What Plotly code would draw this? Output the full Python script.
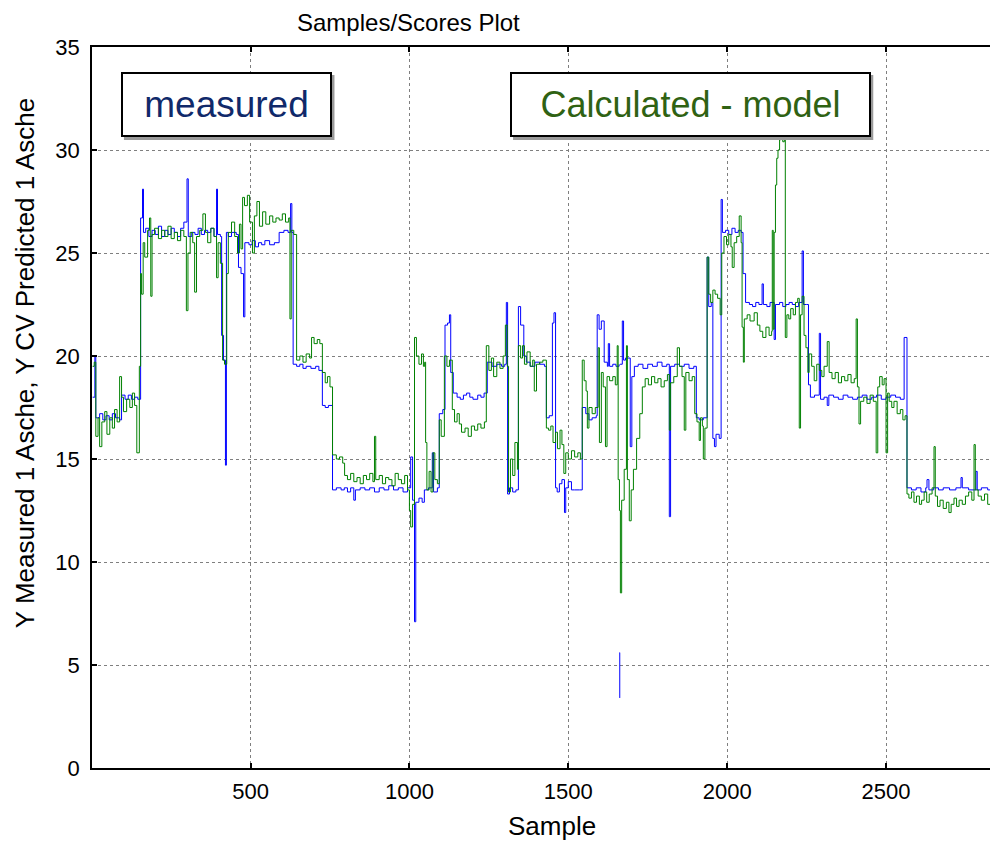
import plotly.graph_objects as go

# ---------------- data ----------------
measured_points = [
    (3, 18.0), (10, 20.0), (13, 17.0), (25, 17.2), (35, 16.9), (45, 17.1), (55, 16.9),
    (65, 17.2), (75, 17.0), (88, 16.9), (94, 18.1), (105, 17.9), (115, 18.1), (125, 17.9),
    (135, 18.0), (145, 17.9), (154, 26.7), (160, 28.1), (163, 26.0), (170, 26.2), (180, 25.8),
    (190, 26.1), (200, 25.9), (210, 26.3), (220, 25.8), (230, 26.1), (240, 25.9), (250, 26.2),
    (260, 26.0), (270, 25.8), (280, 26.2), (290, 26.5), (300, 28.6), (304, 25.8), (315, 26.0),
    (325, 25.9), (335, 26.2), (345, 25.9), (355, 26.1), (365, 26.0), (375, 26.2), (385, 25.8),
    (393, 28.1), (396, 25.9), (405, 25.8), (409, 21.0), (415, 19.8), (421, 14.7), (424, 26.0),
    (430, 25.8), (440, 26.0), (455, 25.9), (462, 24.3), (470, 24.0), (478, 21.9), (482, 25.5),
    (495, 25.4), (505, 25.6), (515, 25.3), (525, 25.5), (535, 25.4), (545, 25.6), (560, 25.4),
    (575, 25.5), (590, 26.0), (605, 26.1), (618, 26.0), (626, 27.4), (630, 26.0), (634, 19.6),
    (645, 19.5), (655, 19.6), (665, 19.4), (675, 19.5), (690, 19.4), (705, 19.5), (715, 19.3),
    (726, 17.6), (735, 17.5), (745, 17.6), (758, 13.5), (770, 13.6), (785, 13.5), (795, 13.6),
    (805, 13.4), (815, 13.6), (825, 13.0), (830, 13.5), (845, 13.6), (860, 13.5), (875, 13.6),
    (890, 13.4), (905, 13.6), (920, 13.5), (935, 13.7), (950, 13.5), (965, 13.6), (980, 13.4),
    (994, 13.6), (1004, 15.1), (1010, 13.0), (1016, 7.1), (1020, 12.9), (1030, 13.1),
    (1040, 12.9), (1047, 13.5), (1060, 13.6), (1072, 15.3), (1076, 13.4), (1088, 13.6),
    (1094, 17.2), (1105, 17.4), (1112, 21.5), (1120, 21.6), (1126, 22.0), (1130, 19.2),
    (1138, 18.2), (1150, 18.0), (1160, 17.9), (1170, 18.1), (1180, 18.2), (1190, 18.0),
    (1200, 17.9), (1215, 18.1), (1225, 18.0), (1235, 18.2), (1245, 19.7), (1260, 19.5),
    (1275, 19.6), (1290, 19.5), (1300, 19.6), (1305, 22.6), (1309, 13.3), (1315, 13.6),
    (1325, 13.4), (1335, 13.5), (1343, 22.4), (1350, 21.5), (1360, 20.0), (1368, 19.7),
    (1380, 19.5), (1395, 19.7), (1410, 19.6), (1425, 19.5), (1431, 17.0), (1440, 17.1),
    (1450, 21.6), (1455, 22.1), (1460, 13.6), (1465, 13.4), (1472, 13.8), (1480, 14.0),
    (1488, 12.4), (1492, 13.6), (1500, 13.9), (1510, 13.5), (1520, 13.5), (1535, 13.5),
    (1544, 17.5), (1555, 17.2), (1565, 16.9), (1575, 17.0), (1588, 17.1), (1591, 22.0),
    (1597, 21.3), (1604, 21.7), (1613, 19.7), (1623, 19.5), (1626, 20.6), (1630, 19.5),
    (1640, 19.6), (1650, 19.5), (1660, 19.6), (1661, None), (1661, 5.6), (1662, 3.4),
    (1662, None), (1663, 19.6), (1670, 21.7), (1674, 19.8), (1680, 19.9), (1695, 15.6),
    (1700, 19.0), (1708, 19.5), (1720, 19.6), (1735, 19.4), (1750, 19.6), (1765, 19.5),
    (1780, 19.7), (1795, 19.5), (1810, 19.6), (1818, 12.2), (1822, 19.5), (1835, 19.6),
    (1850, 19.5), (1865, 19.6), (1880, 19.4), (1895, 19.5), (1903, 17.0), (1912, 16.9),
    (1925, 17.0), (1934, 17.0), (1937, 24.8), (1942, 22.4), (1950, 22.6), (1955, 16.0),
    (1960, 15.6), (1965, 16.2), (1975, 16.0), (1981, 27.6), (1985, 26.0), (1995, 26.1),
    (2005, 25.9), (2015, 26.2), (2025, 26.0), (2035, 26.1), (2044, 26.0), (2050, 24.0),
    (2058, 22.6), (2070, 22.5), (2080, 22.4), (2090, 22.6), (2100, 22.5), (2110, 23.5),
    (2114, 22.5), (2125, 22.4), (2135, 22.6), (2148, 20.8), (2152, 22.5), (2165, 22.6),
    (2175, 22.4), (2185, 22.5), (2195, 22.6), (2205, 22.5), (2215, 22.4), (2225, 22.6),
    (2236, 25.1), (2240, 22.5), (2250, 22.5), (2256, 18.6), (2262, 18.0), (2275, 18.1),
    (2290, 21.1), (2294, 17.9), (2305, 18.0), (2315, 17.6), (2320, 18.1), (2335, 18.0),
    (2350, 17.9), (2365, 18.1), (2380, 18.0), (2395, 17.9), (2410, 18.0), (2425, 18.1),
    (2440, 17.9), (2455, 18.0), (2470, 18.1), (2485, 17.9), (2500, 18.0), (2515, 18.1),
    (2530, 18.0), (2545, 17.9), (2557, 20.9), (2566, 13.6), (2580, 13.5), (2595, 13.6),
    (2610, 13.4), (2625, 13.6), (2629, 14.0), (2635, 13.5), (2650, 13.6), (2665, 13.5),
    (2680, 13.6), (2700, 13.5), (2720, 13.6), (2736, 14.1), (2740, 13.6), (2760, 13.5),
    (2783, 14.4), (2787, 13.5), (2800, 13.6), (2820, 13.5), (2835, 13.6), (2843, 13.5),
]

model_points = [
    (3, 19.5), (8, 19.7), (13, 16.1), (20, 17.0), (25, 15.6), (32, 16.8), (41, 17.3),
    (48, 16.2), (57, 17.0), (65, 16.5), (72, 17.4), (80, 16.8), (88, 19.0), (94, 18.0),
    (100, 17.3), (110, 17.9), (120, 17.5), (128, 18.2), (135, 17.6), (142, 15.3), (150, 19.5),
    (154, 24.0), (157, 23.0), (162, 25.5), (167, 24.8), (176, 26.1), (182, 26.7), (186, 22.9),
    (190, 25.9), (198, 26.2), (210, 25.7), (220, 26.1), (230, 25.8), (240, 26.3), (250, 25.7),
    (260, 26.0), (270, 25.6), (280, 26.1), (290, 25.8), (298, 22.2), (303, 25.0), (310, 26.0),
    (318, 25.5), (324, 23.1), (330, 25.8), (340, 26.1), (350, 26.9), (358, 26.0), (365, 25.5),
    (375, 26.2), (385, 25.8), (393, 23.8), (398, 25.5), (405, 24.5), (412, 19.8), (418, 19.6),
    (425, 24.0), (430, 26.0), (440, 26.5), (450, 25.8), (459, 25.0), (465, 26.4), (470, 25.2),
    (475, 27.7), (481, 27.3), (490, 27.8), (497, 26.5), (506, 25.0), (512, 26.8), (520, 27.5),
    (528, 26.3), (538, 27.0), (548, 26.4), (560, 26.8), (570, 26.5), (580, 26.7), (590, 26.6),
    (600, 26.9), (610, 26.5), (620, 26.7), (624, 21.8), (628, 26.1), (636, 25.9), (645, 19.8),
    (655, 20.0), (665, 19.7), (675, 20.1), (686, 19.9), (692, 20.9), (700, 20.6), (710, 20.8),
    (718, 20.6), (726, 19.2), (735, 18.7), (742, 19.0), (750, 18.5), (758, 15.2), (770, 15.0),
    (780, 15.1), (790, 14.8), (796, 14.2), (805, 14.0), (815, 14.3), (825, 13.9), (835, 14.1),
    (845, 13.8), (855, 14.2), (865, 14.0), (875, 14.3), (885, 13.9), (890, 16.1), (894, 14.0),
    (905, 14.2), (915, 13.8), (925, 14.1), (935, 14.0), (945, 13.7), (955, 14.3), (965, 14.0),
    (975, 13.8), (985, 14.2), (994, 13.5), (1000, 12.5), (1004, 11.7), (1010, 12.8),
    (1016, 20.9), (1022, 20.0), (1030, 19.6), (1038, 20.1), (1044, 19.5), (1048, 19.7),
    (1051, 15.8), (1055, 13.5), (1062, 14.4), (1068, 13.4), (1074, 15.3), (1080, 14.0),
    (1088, 13.8), (1094, 16.9), (1100, 16.1), (1110, 20.0), (1118, 19.5), (1126, 19.8),
    (1135, 17.4), (1142, 16.8), (1150, 17.2), (1157, 16.7), (1164, 16.3), (1175, 16.5),
    (1185, 16.1), (1195, 16.6), (1205, 16.4), (1215, 16.7), (1225, 16.5), (1236, 16.8),
    (1242, 20.5), (1250, 19.3), (1258, 19.9), (1265, 19.0), (1275, 19.7), (1285, 19.4),
    (1295, 20.0), (1302, 21.5), (1308, 19.5), (1312, 13.4), (1318, 15.0), (1325, 14.2),
    (1332, 15.8), (1340, 14.5), (1343, 20.5), (1350, 19.9), (1356, 20.5), (1362, 19.6),
    (1370, 20.2), (1380, 19.5), (1388, 19.8), (1393, 18.3), (1400, 19.6), (1410, 19.7),
    (1420, 19.8), (1431, 16.5), (1438, 16.4), (1445, 16.6), (1452, 15.8), (1460, 16.3),
    (1466, 15.5), (1474, 16.4), (1480, 15.7), (1486, 14.3), (1492, 15.3), (1500, 15.0),
    (1510, 15.4), (1520, 15.1), (1530, 15.3), (1538, 15.0), (1544, 19.8), (1550, 18.8),
    (1556, 18.3), (1560, 16.5), (1565, 17.5), (1575, 17.2), (1585, 17.5), (1594, 20.4),
    (1598, 15.8), (1604, 19.2), (1610, 18.5), (1617, 15.6), (1622, 19.0), (1630, 18.8),
    (1640, 19.0), (1648, 18.6), (1654, 20.5), (1657, 14.0), (1661, 12.5), (1664, 8.5),
    (1668, 13.0), (1676, 14.5), (1683, 20.5), (1686, 14.0), (1692, 12.0), (1698, 13.5),
    (1705, 14.5), (1715, 16.0), (1725, 17.2), (1733, 18.5), (1742, 18.9), (1752, 18.6),
    (1762, 19.0), (1772, 18.7), (1782, 18.9), (1792, 18.5), (1802, 18.8), (1812, 19.1),
    (1818, 16.4), (1822, 18.7), (1832, 19.0), (1843, 20.4), (1850, 19.5), (1858, 19.0),
    (1865, 16.4), (1870, 19.2), (1880, 18.8), (1890, 19.0), (1898, 17.2), (1905, 16.8),
    (1912, 15.9), (1916, 17.0), (1922, 16.6), (1925, 15.0), (1930, 16.5), (1937, 24.8),
    (1942, 23.0), (1948, 22.6), (1955, 23.2), (1962, 23.0), (1970, 22.8), (1978, 22.0),
    (1983, 25.0), (1990, 25.8), (1998, 25.4), (2005, 25.9), (2012, 25.3), (2016, 24.3),
    (2022, 25.5), (2030, 25.8), (2038, 26.8), (2044, 25.5), (2047, 21.4), (2051, 19.7),
    (2054, 21.8), (2063, 22.0), (2072, 21.7), (2085, 22.1), (2095, 21.5), (2103, 21.2),
    (2112, 20.9), (2122, 21.4), (2132, 21.0), (2140, 21.2), (2142, 26.1), (2145, 21.3),
    (2148, 26.0), (2152, 28.3), (2156, 29.6), (2160, 30.0), (2165, 30.5), (2170, 30.8),
    (2175, 30.4), (2180, 30.6), (2183, 20.9), (2188, 22.0), (2194, 21.8), (2200, 22.3),
    (2208, 22.0), (2215, 22.6), (2222, 22.8), (2227, 16.5), (2231, 22.0), (2236, 22.9),
    (2242, 21.0), (2248, 20.4), (2254, 19.2), (2258, 20.1), (2266, 19.5), (2274, 18.8),
    (2282, 19.6), (2290, 19.3), (2298, 19.0), (2305, 19.5), (2315, 20.7), (2321, 19.2),
    (2330, 18.9), (2340, 19.2), (2350, 18.7), (2360, 19.0), (2370, 18.8), (2380, 19.1),
    (2390, 18.7), (2400, 18.9), (2406, 21.8), (2410, 18.5), (2415, 16.7), (2420, 17.8),
    (2430, 18.0), (2440, 17.7), (2450, 18.1), (2460, 17.8), (2469, 15.3), (2474, 18.5),
    (2480, 19.0), (2488, 18.6), (2494, 18.9), (2500, 15.3), (2505, 18.2), (2510, 17.8),
    (2518, 17.5), (2525, 17.8), (2535, 17.2), (2545, 17.4), (2553, 16.9), (2560, 17.1),
    (2566, 13.3), (2572, 13.1), (2580, 13.4), (2588, 12.9), (2596, 13.2), (2605, 12.8),
    (2612, 13.0), (2620, 13.4), (2628, 12.9), (2636, 13.3), (2645, 13.6), (2651, 15.6),
    (2655, 13.2), (2662, 12.7), (2670, 13.0), (2680, 12.6), (2690, 12.9), (2698, 12.4),
    (2705, 12.8), (2714, 13.1), (2722, 12.7), (2730, 13.0), (2740, 12.8), (2750, 13.2),
    (2760, 13.4), (2770, 13.0), (2777, 15.7), (2781, 13.5), (2790, 13.2), (2800, 13.0),
    (2810, 13.3), (2820, 12.8), (2830, 12.9), (2836, 12.2), (2840, 12.6), (2843, 12.3),
]

measured_sample = [p[0] for p in measured_points]
measured_value = [p[1] for p in measured_points]
model_sample = [p[0] for p in model_points]
model_value = [p[1] for p in model_points]

x_ticks = [500, 1000, 1500, 2000, 2500]
y_ticks = [0, 5, 10, 15, 20, 25, 30, 35]

title_text = "Samples/Scores Plot"
x_title = "Sample"
y_title = "Y Measured 1 Asche, Y CV Predicted 1 Asche"
legend_measured = "measured"
legend_model = "Calculated - model"

# ---------------- layout geometry ----------------
# the page body has an 8 px margin, so the figure is drawn 8 px in from the
# window corner; all page-pixel positions below are converted accordingly.
OFF = 8
W, H = 998 - OFF, 842 - OFF
PLOT_L, PLOT_R, PLOT_T, PLOT_B = 92, 997, 47, 768   # page pixels
L = PLOT_L - OFF
T = PLOT_T - OFF
R = W - (PLOT_R - OFF)
B = H - (PLOT_B - OFF)
PW, PH = W - L - R, H - T - B


def px(xp):
    return (xp - OFF - L) / PW


def py(yp):
    return (H - B - (yp - OFF)) / PH


FONT = "Arial, Liberation Sans, sans-serif"

fig = go.Figure()
fig.add_trace(go.Scatter(
    x=measured_sample, y=measured_value, mode="lines",
    line=dict(color="#0000ff", width=1, shape="hv"),
    connectgaps=False, showlegend=False, hoverinfo="skip"))
fig.add_trace(go.Scatter(
    x=model_sample, y=model_value, mode="lines",
    line=dict(color="#008000", width=1, shape="hv"),
    showlegend=False, hoverinfo="skip"))

axis_common = dict(
    showline=True, linecolor="black", linewidth=1.5, mirror="ticks",
    ticks="inside", ticklen=5, tickcolor="black", tickwidth=1.5,
    showgrid=True, gridcolor="#7f7f7f", gridwidth=1, griddash="dot",
    zeroline=False, tickfont=dict(family=FONT, size=22, color="black"),
)

fig.update_layout(
    width=W, height=H,
    margin=dict(l=L, r=R, t=T, b=B),
    paper_bgcolor="white", plot_bgcolor="white",
    xaxis=dict(range=[1, 2843], tickvals=x_ticks, ticklabelstandoff=3, **axis_common),
    yaxis=dict(range=[0, 35], tickvals=y_ticks, ticklabelstandoff=6, **axis_common),
)

# box shadows
for x0, x1 in [(121, 332), (511, 872)]:
    fig.add_shape(type="rect", xref="paper", yref="paper",
                  x0=px(x0 + 3), x1=px(x1 + 3), y0=py(137 + 3), y1=py(72 + 3),
                  line=dict(width=0), fillcolor="#9a9a9a", layer="above")

fig.add_annotation(text=legend_measured, xref="paper", yref="paper",
                   x=px(226.5), y=py(104.5), xanchor="center", yanchor="middle",
                   showarrow=False, width=207, height=61, borderpad=0,
                   bordercolor="black", borderwidth=2, bgcolor="white",
                   font=dict(family=FONT, size=37, color="#10296a"))
fig.add_annotation(text=legend_model, xref="paper", yref="paper",
                   x=px(691.5), y=py(104.5), xanchor="center", yanchor="middle",
                   showarrow=False, width=357, height=61, borderpad=0,
                   bordercolor="black", borderwidth=2, bgcolor="white",
                   font=dict(family=FONT, size=36, color="#2f6213"))

fig.add_annotation(text=title_text, xref="paper", yref="paper",
                   x=px(409), y=py(22), xanchor="center", yanchor="middle",
                   showarrow=False, font=dict(family=FONT, size=24, color="black"))
fig.add_annotation(text=x_title, xref="paper", yref="paper",
                   x=px(553), y=py(826), xanchor="center", yanchor="middle",
                   showarrow=False, font=dict(family=FONT, size=26, color="black"))
fig.add_annotation(text=y_title, xref="paper", yref="paper",
                   x=px(25), y=py(363), xanchor="center", yanchor="middle",
                   textangle=-90, showarrow=False,
                   font=dict(family=FONT, size=26, color="black"))

fig.write_html("out.html")
